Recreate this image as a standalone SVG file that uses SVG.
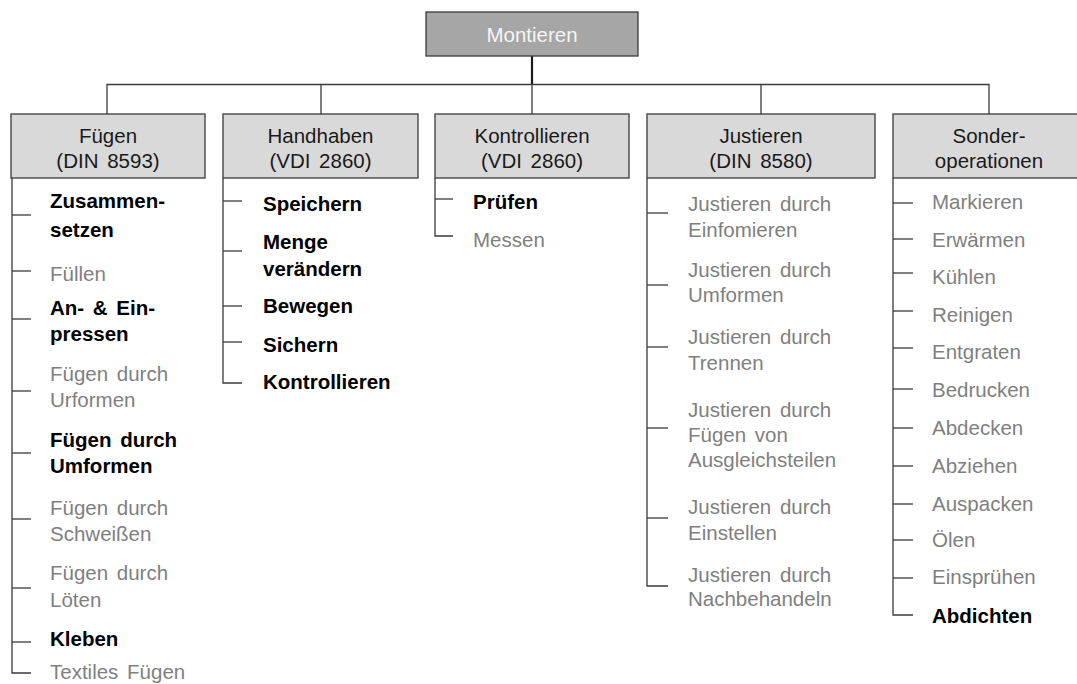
<svg xmlns="http://www.w3.org/2000/svg" width="1077" height="684" viewBox="0 0 1077 684">
  <style>
    text { font-family: "Liberation Sans", Arial, sans-serif; font-size: 20.5px; word-spacing: 3px; }
    .root { fill: #a6a6a6; stroke: #3a3a3a; stroke-width: 1.3; }
    .root-t { fill: #f5f5f5; text-anchor: middle; }
    .head { fill: #d9d9d9; stroke: #3a3a3a; stroke-width: 1.3; }
    .head-t { fill: #1a1a1a; text-anchor: middle; }
    .b { fill: #000000; font-weight: bold; }
    .g { fill: #7f7f7f; }
    .ln { fill: none; stroke: #3a3a3a; stroke-width: 1.3; }
    .stem { fill: none; stroke: #1a1a1a; stroke-width: 2.2; }
  </style>

  <!-- connectors -->
  <g id="connectors">
    <line class="stem" x1="532" y1="56" x2="532" y2="84.5"/>
    <polyline class="ln" points="107,114 107,84.5 989,84.5 989,114"/>
    <line class="ln" x1="321" y1="84.5" x2="321" y2="114"/>
    <line class="ln" x1="532" y1="84.5" x2="532" y2="114"/>
    <line class="ln" x1="761" y1="84.5" x2="761" y2="114"/>

    <!-- Fügen list -->
    <polyline class="ln" points="12,178 12,673 31,673"/>
    <line class="ln" x1="12" y1="215" x2="31" y2="215"/>
    <line class="ln" x1="12" y1="271" x2="31" y2="271"/>
    <line class="ln" x1="12" y1="319" x2="31" y2="319"/>
    <line class="ln" x1="12" y1="391" x2="31" y2="391"/>
    <line class="ln" x1="12" y1="453" x2="31" y2="453"/>
    <line class="ln" x1="12" y1="519" x2="31" y2="519"/>
    <line class="ln" x1="12" y1="588" x2="31" y2="588"/>
    <line class="ln" x1="12" y1="642" x2="31" y2="642"/>

    <!-- Handhaben list -->
    <polyline class="ln" points="223,178 223,383 242,383"/>
    <line class="ln" x1="223" y1="201" x2="242" y2="201"/>
    <line class="ln" x1="223" y1="251" x2="242" y2="251"/>
    <line class="ln" x1="223" y1="306" x2="242" y2="306"/>
    <line class="ln" x1="223" y1="342" x2="242" y2="342"/>

    <!-- Kontrollieren list -->
    <polyline class="ln" points="435,178 435,236 453,236"/>
    <line class="ln" x1="435" y1="199" x2="453" y2="199"/>

    <!-- Justieren list -->
    <polyline class="ln" points="647,178 647,586 668,586"/>
    <line class="ln" x1="647" y1="213" x2="668" y2="213"/>
    <line class="ln" x1="647" y1="285" x2="668" y2="285"/>
    <line class="ln" x1="647" y1="347" x2="668" y2="347"/>
    <line class="ln" x1="647" y1="428" x2="668" y2="428"/>
    <line class="ln" x1="647" y1="518" x2="668" y2="518"/>

    <!-- Sonderoperationen list -->
    <polyline class="ln" points="893,178 893,615 913,615"/>
    <line class="ln" x1="893" y1="203" x2="913" y2="203"/>
    <line class="ln" x1="893" y1="239" x2="913" y2="239"/>
    <line class="ln" x1="893" y1="273" x2="913" y2="273"/>
    <line class="ln" x1="893" y1="311" x2="913" y2="311"/>
    <line class="ln" x1="893" y1="348" x2="913" y2="348"/>
    <line class="ln" x1="893" y1="389" x2="913" y2="389"/>
    <line class="ln" x1="893" y1="428" x2="913" y2="428"/>
    <line class="ln" x1="893" y1="466" x2="913" y2="466"/>
    <line class="ln" x1="893" y1="504" x2="913" y2="504"/>
    <line class="ln" x1="893" y1="540" x2="913" y2="540"/>
    <line class="ln" x1="893" y1="578" x2="913" y2="578"/>
  </g>

  <!-- root -->
  <g id="montieren">
    <rect class="root" x="426" y="12" width="212" height="44"/>
    <text class="root-t" x="532" y="42">Montieren</text>
  </g>

  <!-- category boxes -->
  <g id="fuegen">
    <rect class="head" x="11" y="114" width="194" height="64"/>
    <text class="head-t" x="108" y="143">Fügen</text>
    <text class="head-t" x="108" y="168">(DIN 8593)</text>
  </g>
  <g id="handhaben">
    <rect class="head" x="223" y="114" width="195" height="64"/>
    <text class="head-t" x="320.5" y="143">Handhaben</text>
    <text class="head-t" x="320.5" y="168">(VDI 2860)</text>
  </g>
  <g id="kontrollieren">
    <rect class="head" x="435" y="114" width="194" height="64"/>
    <text class="head-t" x="532" y="143">Kontrollieren</text>
    <text class="head-t" x="532" y="168">(VDI 2860)</text>
  </g>
  <g id="justieren">
    <rect class="head" x="647" y="114" width="228" height="64"/>
    <text class="head-t" x="761" y="143">Justieren</text>
    <text class="head-t" x="761" y="168">(DIN 8580)</text>
  </g>
  <g id="sonderoperationen">
    <rect class="head" x="893" y="114" width="192" height="64"/>
    <text class="head-t" x="989" y="143">Sonder-</text>
    <text class="head-t" x="989" y="168">operationen</text>
  </g>

  <!-- Fügen items -->
  <g id="fuegen-items">
    <text class="b" x="50" y="208">Zusammen-</text>
    <text class="b" x="50" y="237">setzen</text>
    <text class="g" x="50" y="281">Füllen</text>
    <text class="b" x="50" y="315">An- &amp; Ein-</text>
    <text class="b" x="50" y="341">pressen</text>
    <text class="g" x="50" y="381">Fügen durch</text>
    <text class="g" x="50" y="407">Urformen</text>
    <text class="b" x="50" y="447">Fügen durch</text>
    <text class="b" x="50" y="473">Umformen</text>
    <text class="g" x="50" y="515">Fügen durch</text>
    <text class="g" x="50" y="541">Schweißen</text>
    <text class="g" x="50" y="580">Fügen durch</text>
    <text class="g" x="50" y="607">Löten</text>
    <text class="b" x="50" y="646">Kleben</text>
    <text class="g" x="50" y="679">Textiles Fügen</text>
  </g>

  <!-- Handhaben items -->
  <g id="handhaben-items">
    <text class="b" x="263" y="211">Speichern</text>
    <text class="b" x="263" y="249">Menge</text>
    <text class="b" x="263" y="276">verändern</text>
    <text class="b" x="263" y="313">Bewegen</text>
    <text class="b" x="263" y="352">Sichern</text>
    <text class="b" x="263" y="389">Kontrollieren</text>
  </g>

  <!-- Kontrollieren items -->
  <g id="kontrollieren-items">
    <text class="b" x="473" y="209">Prüfen</text>
    <text class="g" x="473" y="247">Messen</text>
  </g>

  <!-- Justieren items -->
  <g id="justieren-items">
    <text class="g" x="688" y="211">Justieren durch</text>
    <text class="g" x="688" y="237">Einfomieren</text>
    <text class="g" x="688" y="277">Justieren durch</text>
    <text class="g" x="688" y="302">Umformen</text>
    <text class="g" x="688" y="344">Justieren durch</text>
    <text class="g" x="688" y="370">Trennen</text>
    <text class="g" x="688" y="417">Justieren durch</text>
    <text class="g" x="688" y="442">Fügen von</text>
    <text class="g" x="688" y="467">Ausgleichsteilen</text>
    <text class="g" x="688" y="514">Justieren durch</text>
    <text class="g" x="688" y="540">Einstellen</text>
    <text class="g" x="688" y="582">Justieren durch</text>
    <text class="g" x="688" y="606">Nachbehandeln</text>
  </g>

  <!-- Sonderoperationen items -->
  <g id="sonder-items">
    <text class="g" x="932" y="209">Markieren</text>
    <text class="g" x="932" y="247">Erwärmen</text>
    <text class="g" x="932" y="284">Kühlen</text>
    <text class="g" x="932" y="322">Reinigen</text>
    <text class="g" x="932" y="359">Entgraten</text>
    <text class="g" x="932" y="397">Bedrucken</text>
    <text class="g" x="932" y="435">Abdecken</text>
    <text class="g" x="932" y="473">Abziehen</text>
    <text class="g" x="932" y="511">Auspacken</text>
    <text class="g" x="932" y="547">Ölen</text>
    <text class="g" x="932" y="584">Einsprühen</text>
    <text class="b" x="932" y="623">Abdichten</text>
  </g>
</svg>
